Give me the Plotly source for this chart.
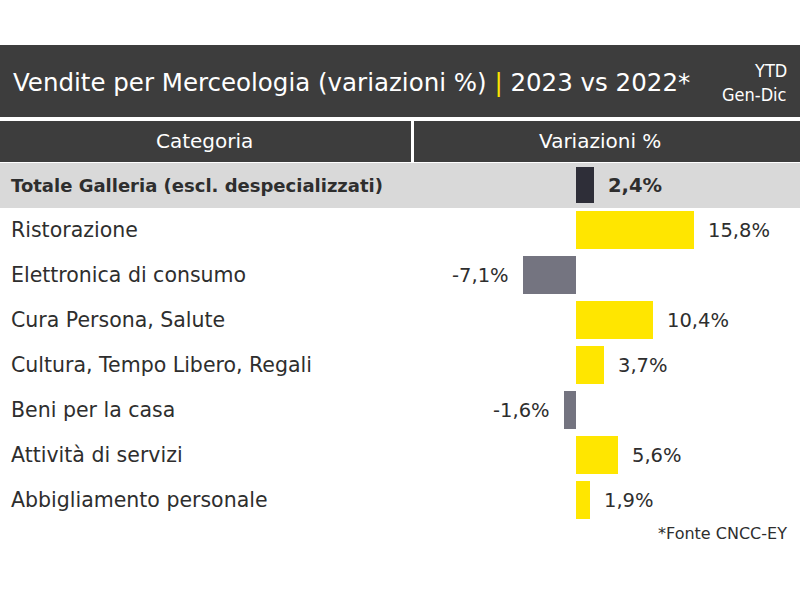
import plotly.graph_objects as go

categories = [
    "Totale Galleria (escl. despecializzati)",
    "Ristorazione",
    "Elettronica di consumo",
    "Cura Persona, Salute",
    "Cultura, Tempo Libero, Regali",
    "Beni per la casa",
    "Attività di servizi",
    "Abbigliamento personale",
]
values = [2.4, 15.8, -7.1, 10.4, 3.7, -1.6, 5.6, 1.9]
title_text = "Vendite per Merceologia (variazioni %)"
title_period = "2023 vs 2022*"
col_headers = ["Categoria", "Variazioni %"]
ytd_lines = ["YTD", "Gen-Dic"]
footnote = "*Fonte CNCC-EY"

W, H = 800, 600
ZERO_PX = 576
PX_PER_UNIT = 7.45
ROW0_PX = 185
ROW_STEP = 45

FONT = "DejaVu Sans"
FONT_C = "DejaVu Sans Condensed, DejaVu Sans"
TEXT_COL = "#2e2e2e"
YELLOW = "#FFE600"
NEG = "#747480"
TOTAL = "#2E2E38"
DARK = "#3d3d3d"

rows = list(range(len(categories)))
colors = [TOTAL if i == 0 else (YELLOW if v >= 0 else NEG) for i, v in enumerate(values)]
widths = [0.80] + [0.83] * (len(values) - 1)

fig = go.Figure(go.Bar(
    x=values, y=rows, orientation="h",
    marker=dict(color=colors, line=dict(width=0)),
    width=widths, hoverinfo="skip",
))

def py(px):
    return 1 - px / H

shapes = [
    dict(type="rect", xref="paper", yref="paper", x0=0, x1=1, y0=py(117), y1=py(45),
         fillcolor=DARK, line=dict(width=0), layer="below"),
    dict(type="rect", xref="paper", yref="paper", x0=0, x1=411 / W, y0=py(162), y1=py(121),
         fillcolor=DARK, line=dict(width=0), layer="below"),
    dict(type="rect", xref="paper", yref="paper", x0=414 / W, x1=1, y0=py(162), y1=py(121),
         fillcolor=DARK, line=dict(width=0), layer="below"),
    dict(type="rect", xref="paper", yref="paper", x0=0, x1=1, y0=py(208), y1=py(163),
         fillcolor="#d9d9d9", line=dict(width=0), layer="below"),
]

ann = []
ann.append(dict(xref="paper", yref="paper", x=11 / W, y=py(82), xanchor="left", yanchor="middle",
                text=f"{title_text} <span style='color:{YELLOW}'>|</span> {title_period}",
                showarrow=False, font=dict(family=FONT, size=24.5, color="white")))
ann.append(dict(xref="paper", yref="paper", x=789 / W, y=py(71), xanchor="right", yanchor="middle",
                text=ytd_lines[0], showarrow=False,
                font=dict(family=FONT_C, size=18, color="white")))
ann.append(dict(xref="paper", yref="paper", x=789 / W, y=py(94), xanchor="right", yanchor="middle",
                text=ytd_lines[1], showarrow=False,
                font=dict(family=FONT_C, size=18, color="white")))
ann.append(dict(xref="paper", yref="paper", x=205 / W, y=py(141), xanchor="center", yanchor="middle",
                text=col_headers[0], showarrow=False, font=dict(family=FONT, size=20, color="white")))
ann.append(dict(xref="paper", yref="paper", x=600 / W, y=py(141), xanchor="center", yanchor="middle",
                text=col_headers[1], showarrow=False, font=dict(family=FONT, size=20, color="white")))

for i, (c, v) in enumerate(zip(categories, values)):
    bold = i == 0
    ann.append(dict(xref="paper", yref="y", x=9 / W, y=i, xanchor="left", yanchor="middle",
                    text=f"<b>{c}</b>" if bold else c, showarrow=False,
                    font=dict(family=FONT, size=18 if bold else 20.5, color=TEXT_COL)))
    lbl = f"{v:.1f}".replace(".", ",") + "%"
    ann.append(dict(xref="x", yref="y", x=v, y=i,
                    xanchor="left" if v >= 0 else "right", yanchor="middle",
                    xshift=12 if v >= 0 else -12,
                    text=f"<b>{lbl}</b>" if bold else lbl, showarrow=False,
                    font=dict(family=FONT, size=19.5, color=TEXT_COL)))

ann.append(dict(xref="paper", yref="paper", x=789 / W, y=py(533), xanchor="right", yanchor="middle",
                text=footnote, showarrow=False,
                font=dict(family=FONT, size=16, color=TEXT_COL)))

fig.update_layout(
    width=W, height=H, margin=dict(l=0, r=0, t=0, b=0),
    paper_bgcolor="white", plot_bgcolor="rgba(0,0,0,0)",
    showlegend=False, shapes=shapes, annotations=ann,
    xaxis=dict(range=[-ZERO_PX / PX_PER_UNIT, (W - ZERO_PX) / PX_PER_UNIT], visible=False,
               domain=[0, 1], fixedrange=True),
    yaxis=dict(range=[(H - ROW0_PX) / ROW_STEP, -ROW0_PX / ROW_STEP], visible=False,
               domain=[0, 1], fixedrange=True),
    bargap=0,
)

fig.write_html("out.html", config={"displayModeBar": False},
               post_script="document.body.style.margin='0';")
